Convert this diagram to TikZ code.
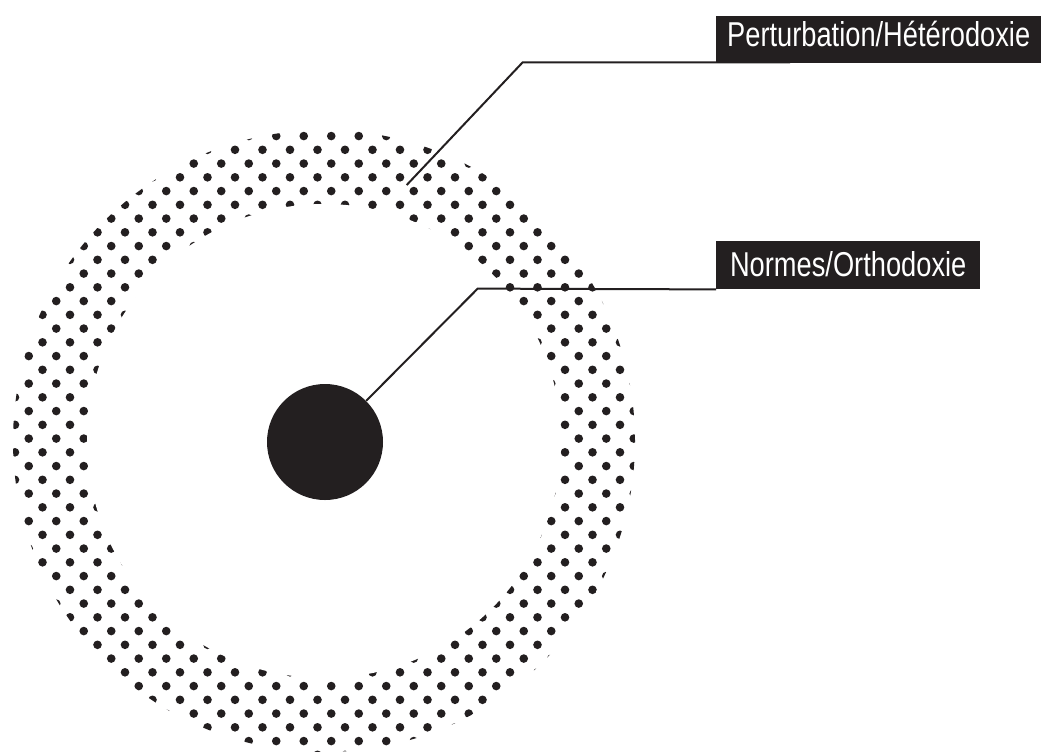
\documentclass[tikz,border=0pt]{standalone}
\usepackage{fontspec}
\newfontfamily\labfont[FakeStretch=0.79]{Liberation Sans}
\definecolor{ink}{HTML}{231F20}
\tikzset{
  labbox/.style={fill=ink, text=white, font=\labfont\fontsize{34.5pt}{36pt}\selectfont,
    inner xsep=0pt, inner ysep=0pt, anchor=north west},
  leader/.style={draw=ink, line width=2pt},
  dotfill/.style={fill=ink}
}
\begin{document}
\begin{tikzpicture}[x=1pt,y=-1pt]
\useasboundingbox (0,0) rectangle (1041,753);
% dotted ring
\begin{scope}
  \clip (324,441) circle[radius=311pt];
  \foreach \j in {-12,...,34} {
    \pgfmathsetmacro\off{mod(\j+100,2)*13.75}
    \foreach \m in {-19,...,5} {
      \fill[dotfill] (510+\off+27.5*\m, 287.3+13.75*\j) circle[radius=4.3pt];
    }
  }
\end{scope}
\fill[white] (324,441) circle[radius=237pt];
% central disc
\node[circle, fill=ink, minimum size=116pt, inner sep=0pt] (core) at (325,442) {};
% leaders (drawn before the boxes so the boxes lie on top)
\coordinate (p1) at (406.7,185);
\coordinate (p2) at (522.7,62.3);
\coordinate (p3) at (790,62.3);
\draw[leader] (p1) -- (p2) -- (p3);
% labels
\node[labbox, minimum width=325pt, text height=30.5pt, text depth=16pt] (pert) at (716,16) {Perturbation/Hétérodoxie};
\node[labbox, minimum width=264pt, text height=35pt, text depth=13pt] (norm) at (716,241) {Normes/Orthodoxie};
\coordinate (n2) at (477.7,288.6);
\draw[leader] (core.45) -- (n2) -- (norm.south west);
\end{tikzpicture}
\end{document}
